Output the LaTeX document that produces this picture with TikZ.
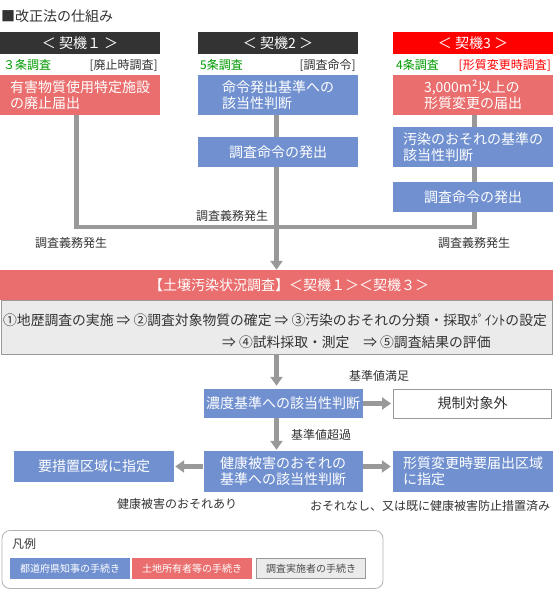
\documentclass[tikz,border=0pt]{standalone}
\usepackage{fontspec}
\setmainfont{Noto Sans CJK JP}
\usetikzlibrary{arrows.meta,backgrounds}
\definecolor{cdark}{HTML}{333333}
\definecolor{cred}{HTML}{FF0000}
\definecolor{cpink}{HTML}{EA6E6E}
\definecolor{cblue}{HTML}{7090D0}
\definecolor{cline}{HTML}{999999}
\definecolor{cgreen}{HTML}{009900}
\definecolor{cgray}{HTML}{EBEBEB}
\definecolor{ctext}{HTML}{333333}
\begin{document}
\begin{tikzpicture}[x=1pt,y=-1pt,
  box/.style={inner sep=0pt, minimum width=160pt, text=white, font=\fontsize{14}{16}\selectfont, align=left},
  hdbox/.style={box, minimum height=22pt, fill=cdark},
  bluebox/.style={box, fill=cblue},
  redbox/.style={box, fill=cpink},
  lbl/.style={inner sep=0pt, font=\fontsize{12}{14}\selectfont, text=ctext},
  gtxt/.style={inner sep=0pt, font=\fontsize{13.8}{16}\selectfont, text=ctext},
  conn/.style={draw=cline, line width=4.5pt, line join=miter},
  arr/.style={draw=cline, line width=5pt, -{Triangle[width=12pt,length=9pt]}},
  legitem/.style={inner sep=0pt, minimum height=21pt, font=\fontsize{10}{12}\selectfont},
]
\useasboundingbox (0,0) rectangle (553,591);

% title
\node[anchor=west, inner sep=0pt, font=\fontsize{14}{16}\selectfont, text=ctext] (title) at (1,16) {■改正法の仕組み};

% headers
\node[hdbox] (k1) at (80,43) {＜ 契機１ ＞};
\node[hdbox] (k2) at (278,43) {＜ 契機2 ＞};
\node[hdbox, fill=cred] (k3) at (473,43) {＜ 契機3 ＞};

% row labels
\node[lbl, anchor=west, text=cgreen] (s1) at (3,65) {３条調査};
\node[lbl, anchor=east] (t1) at (158,65) {[廃止時調査]};
\node[lbl, anchor=west, text=cgreen] (s2) at (200,65) {5条調査};
\node[lbl, anchor=east] (t2) at (356,65) {[調査命令]};
\node[lbl, anchor=west, text=cgreen] (s3) at (396,65) {4条調査};
\node[lbl, anchor=east, text=cred] (t3) at (551,65) {[形質変更時調査]};

% first boxes
\node[redbox, minimum height=40pt] (b1) at (80,95) {有害物質使用特定施設\\の廃止届出};
\node[bluebox, minimum height=40pt] (b2) at (278,95) {命令発出基準への\\該当性判断};
\node[redbox, minimum height=40pt] (b3) at (473,95) {3,000m²以上の\\形質変更の届出};
\node[bluebox, minimum height=30pt] (c2) at (278,152) {調査命令の発出};
\node[bluebox, minimum height=40pt] (c3) at (473,147) {汚染のおそれの基準の\\該当性判断};
\node[bluebox, minimum height=30pt] (d3) at (473,197) {調査命令の発出};

\node[lbl] (g1) at (232,216) {調査義務発生};
\node[lbl] (g2) at (71,243) {調査義務発生};
\node[lbl] (g3) at (474,243) {調査義務発生};

\coordinate (j1) at (76.5,227);
\coordinate (j3) at (474.5,227);

% survey
\node[fill=cpink, minimum width=553pt, minimum height=30pt, inner sep=0pt] (sv) at (276.5,285) {};
\node[inner sep=0pt, text=white, font=\fontsize{14}{16}\selectfont] (svt) at (289,285) {【土壌汚染状況調査】＜契機１＞＜契機３＞};
\node[draw=cline, fill=cgray, line width=1pt, minimum width=551pt, minimum height=54.5pt, inner sep=0pt] (gb) at (276.5,327.5) {};
\node[gtxt, anchor=west] (gl1) at (3,320) {①地歴調査の実施 ⇒ ②調査対象物質の確定 ⇒ ③汚染のおそれの分類・採取ﾎﾟｲﾝﾄの設定};
\node[gtxt, anchor=west] (gl2) at (222,342) {⇒ ④試料採取・測定　⇒ ⑤調査結果の評価};

% lower part
\node[bluebox, minimum width=159pt, minimum height=29pt] (n1) at (283,403.5) {濃度基準への該当性判断};
\node[draw=cline, line width=1pt, fill=white, minimum width=158pt, minimum height=29pt, inner sep=0pt, font=\fontsize{14}{16}\selectfont, text=ctext] (n2) at (472.5,403.5) {規制対象外};
\node[bluebox, minimum width=159pt, minimum height=41pt] (n3) at (283,471.5) {健康被害のおそれの\\基準への該当性判断};
\node[bluebox, minimum height=31pt] (n4) at (94,466.5) {要措置区域に指定};
\node[bluebox, minimum height=41pt] (n5) at (473,471.5) {形質変更時要届出区域\\に指定};

\node[lbl] (m1) at (379,376) {基準値満足};
\node[lbl] (m2) at (321,435) {基準値超過};
\node[lbl] (m3) at (177,504) {健康被害のおそれあり};
\node[lbl] (m4) at (430,506) {おそれなし、又は既に健康被害防止措置済み};

% legend
\node[draw=black!30, rounded corners=8pt, line width=0.8pt, minimum width=381pt, minimum height=58pt, inner sep=0pt] (lg) at (192.5,559.5) {};
\node[anchor=west, inner sep=0pt, font=\fontsize{12}{14}\selectfont, text=ctext] (lgt) at (12,544) {凡例};
\node[legitem, fill=cblue, text=white, minimum width=120pt] (l1) at (70,568.5) {都道府県知事の手続き};
\node[legitem, fill=cpink, text=white, minimum width=120pt] (l2) at (192,568.5) {土地所有者等の手続き};
\node[legitem, draw=cline, line width=1pt, fill=cgray, text=black!70, minimum width=109pt, minimum height=20pt] (l3) at (311,568.5) {調査実施者の手続き};

% connectors
\begin{pgfonlayer}{background}
\draw[conn] (b1.south -| j1) -- (j1) -- (j3) -- (d3.south -| j3);
\draw[conn] (b3.south -| j3) -- (c3.north -| j3);
\draw[conn] (c3.south -| j3) -- (d3.north -| j3);
\draw[arr] (b2.south -| sv.north) -- (sv.north);
\draw[arr, shorten >=3pt] (gb.south -| sv.north) -- (n1.north -| sv.north);
\draw[arr, shorten >=1pt] (n1.south -| sv.north) -- (n3.north -| sv.north);
\draw[arr, shorten >=2pt] (n1.east) -- (n2.west);
\draw[arr, shorten >=1pt] (n3.west |- n4) -- (n4.east);
\draw[arr, shorten >=2pt] (n3.east |- n4) -- (n5.west |- n4);
\end{pgfonlayer}
\end{tikzpicture}
\end{document}
